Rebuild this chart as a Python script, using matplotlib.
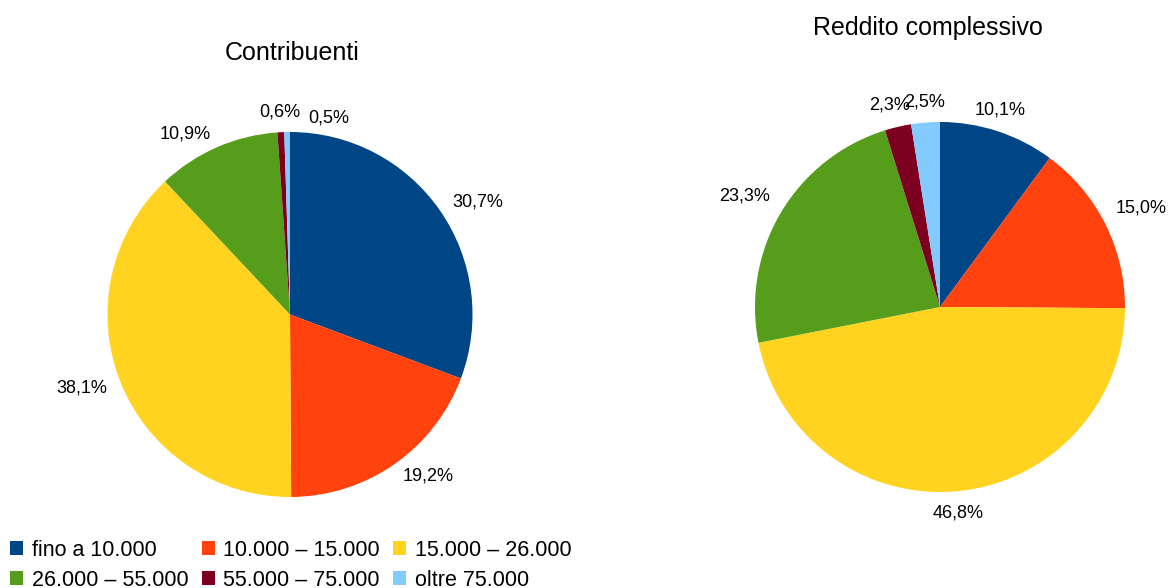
import matplotlib
matplotlib.use("Agg")
import matplotlib.pyplot as plt
from matplotlib.patches import Patch

plt.rcParams['font.family'] = ['Liberation Sans', 'DejaVu Sans']

classi = ["fino a 10.000", "10.000 – 15.000", "15.000 – 26.000",
          "26.000 – 55.000", "55.000 – 75.000", "oltre 75.000"]
colori = ["#004586", "#ff420e", "#ffd320", "#579d1c", "#7e0021", "#83caff"]

contribuenti = [30.7, 19.2, 38.1, 10.9, 0.6, 0.5]
reddito = [10.1, 15.0, 46.8, 23.3, 2.3, 2.5]

W, H = 1171.0, 588.0

def etichette(vals):
    return [("%.1f%%" % v).replace(".", ",") for v in vals]

fig = plt.figure(figsize=(W / 100, H / 100), dpi=100)

# assi in pixel: cx, cy (dall'alto), raggio
def asse(cx, cy, r):
    ax = fig.add_axes([(cx - r) / W, (H - cy - r) / H, 2 * r / W, 2 * r / H])
    return ax

def sistema(ax):
    ax.set_xlim(-1, 1)
    ax.set_ylim(-1, 1)
    ax.axis("off")

ax1 = asse(290, 314.5, 182.5)
w1, t1 = ax1.pie(contribuenti, labels=etichette(contribuenti), colors=colori,
                 startangle=90, counterclock=False, labeldistance=1.08,
                 radius=1, textprops={'fontsize': 13})
sistema(ax1)
t1[4].set_position((-0.055, 1.107)); t1[4].set_ha('center')
t1[5].set_position((0.214, 1.074)); t1[5].set_ha('center')
for t in t1:
    t.set_clip_on(False)
fig.text(292 / W, 1 - 53 / H, "Contribuenti", fontsize=18, ha="center", va="center")

ax2 = asse(940, 307, 185)
w2, t2 = ax2.pie(reddito, labels=etichette(reddito), colors=colori,
                 startangle=90, counterclock=False, labeldistance=1.08,
                 radius=1, textprops={'fontsize': 13})
sistema(ax2)
t2[0].set_ha('center'); t2[0].set_position((0.324, 1.065))
t2[1].set_ha('center'); t2[1].set_position((1.086, 0.535))
t2[2].set_ha('center'); t2[2].set_position((0.1, -1.115))
t2[3].set_ha('center'); t2[3].set_position((-1.054, 0.6))
t2[4].set_position((-0.27, 1.09)); t2[4].set_ha('center')
t2[5].set_position((-0.086, 1.108)); t2[5].set_ha('center')
for t in t2:
    t.set_clip_on(False)
fig.text(928 / W, 1 - 28 / H, "Reddito complessivo", fontsize=18, ha="center", va="center")

ordine = [0, 3, 1, 4, 2, 5]
maniglie = [Patch(facecolor=colori[i], label=classi[i]) for i in ordine]
fig.legend(handles=maniglie, ncol=3, loc="lower left",
           bbox_to_anchor=(-0.004, -0.03), frameon=False, fontsize=15.5,
           handlelength=0.6, handleheight=0.6, handletextpad=0.4,
           columnspacing=0.62, labelspacing=0.42, borderaxespad=0.3)

fig.savefig("out.png", dpi=100)
